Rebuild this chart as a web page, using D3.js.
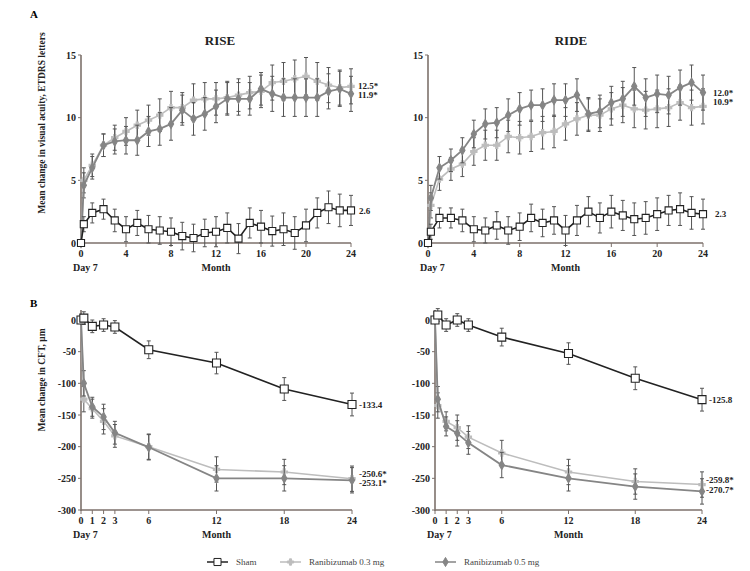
<!DOCTYPE html>
<html>
<head>
<meta charset="utf-8">
<script src="https://cdn.jsdelivr.net/npm/d3@7"></script>
<style>
  body { margin: 0; background: #fff; }
  text { font-family: "Liberation Serif", "DejaVu Serif", serif; }
</style>
</head>
<body>
<script>
// --- data ---
var monthsA = [0, 0.25, 1, 2, 3, 4, 5, 6, 7, 8, 9, 10, 11, 12, 13, 14, 15, 16, 17, 18, 19, 20, 21, 22, 23, 24];

var riseSham = [0, 1.5, 2.4, 2.7, 1.8, 1.1, 1.6, 1.1, 1.0, 0.9, 0.55, 0.4, 0.8, 0.9, 1.2, 0.35, 1.6, 1.3, 0.95, 1.1, 0.8, 1.4, 2.4, 2.85, 2.6, 2.6];
var riseLow  = [0, 5.0, 6.2, 7.8, 8.4, 8.9, 9.4, 9.8, 10.2, 10.8, 10.8, 11.4, 11.5, 11.5, 11.6, 11.8, 12.0, 12.1, 12.8, 12.9, 13.1, 13.3, 12.9, 12.6, 12.4, 12.5];
var riseHigh = [0, 4.6, 6.0, 7.8, 8.1, 8.2, 8.2, 8.9, 9.1, 9.5, 10.6, 9.9, 10.3, 10.9, 11.5, 11.5, 11.5, 12.3, 11.9, 11.6, 11.6, 11.6, 11.6, 12.1, 12.3, 11.9];

var rideSham = [0, 0.9, 2.0, 2.0, 1.8, 1.1, 1.0, 1.4, 1.0, 1.3, 2.0, 1.6, 1.8, 1.0, 1.8, 2.5, 2.0, 2.5, 2.2, 1.9, 2.0, 2.3, 2.6, 2.7, 2.4, 2.3];
var rideLow  = [0, 3.0, 5.1, 5.9, 6.3, 7.3, 7.8, 7.8, 8.5, 8.4, 8.5, 8.8, 8.9, 9.5, 9.9, 10.2, 10.2, 10.7, 11.0, 10.7, 10.6, 10.7, 10.8, 11.2, 10.8, 10.9];
var rideHigh = [0, 3.6, 6.0, 6.6, 7.4, 8.7, 9.5, 9.6, 10.2, 10.7, 11.0, 11.0, 11.4, 11.4, 11.8, 10.3, 10.5, 11.2, 11.5, 12.5, 11.6, 11.9, 11.8, 12.4, 12.8, 12.0];

// half-width of the error bars
var shamErrA = [0, 0.6, 0.8, 0.8, 0.9, 1.0, 1.0, 1.1, 1.1, 1.1, 1.1, 1.1, 1.1, 1.2, 1.2, 1.2, 1.2, 1.3, 1.2, 1.3, 1.3, 1.3, 1.2, 1.3, 1.3, 1.2];
var treatErrA = [0, 1.0, 0.9, 0.9, 1.0, 1.1, 1.2, 1.2, 1.3, 1.3, 1.2, 1.3, 1.3, 1.3, 1.3, 1.3, 1.3, 1.3, 1.4, 1.5, 1.5, 1.5, 1.5, 1.4, 1.4, 1.4];

var monthsB = [0, 0.25, 1, 2, 3, 6, 12, 18, 24];
var riseShamCft = [0, 3, -10, -8, -11, -47, -68, -109, -133.4];
var riseLowCft  = [0, -125, -140, -160, -183, -200, -236, -240, -250.6];
var riseHighCft = [0, -100, -137, -153, -178, -201, -250, -250, -253.1];
var rideShamCft = [0, 8, -8, 0, -8, -27, -53, -92, -125.8];
var rideLowCft  = [0, -135, -160, -170, -185, -210, -240, -255, -259.8];
var rideHighCft = [0, -125, -168, -179, -194, -229, -250, -263, -270.7];
var shamErrB = [0, 10, 10, 10, 10, 14, 17, 18, 18];
var treatErrB = [0, 20, 15, 20, 18, 20, 20, 20, 20];

var ticksA = [0, 4, 8, 12, 16, 20, 24];
var ticksB = [0, 1, 2, 3, 6, 12, 18, 24];
var yTicksA = [0, 5, 10, 15];
var yTicksB = [0, -50, -100, -150, -200, -250, -300];

var seriesNames = ['Sham', 'Ranibizumab 0.3 mg', 'Ranibizumab 0.5 mg'];

// --- styles ---
var axisColor = '#7d716b';
var col = { sham: '#222', low: '#bdbdbd', high: '#858585' };

var svg = d3.select('body').append('svg')
  .attr('width', 750).attr('height', 571);

function panel(opt) {
  var x = d3.scaleLinear().domain([0, 24]).range(opt.xr);
  var y = d3.scaleLinear().domain(opt.yd).range(opt.yr);
  var g = svg.append('g');

  // axes
  var xAxisY = y(opt.yd[0]);
  g.append('line').attr('x1', x(0)).attr('x2', x(24)).attr('y1', xAxisY).attr('y2', xAxisY)
    .attr('stroke', axisColor).attr('stroke-width', 1.6);
  g.append('line').attr('x1', x(0)).attr('x2', x(0)).attr('y1', xAxisY + 1).attr('y2', opt.yTop)
    .attr('stroke', axisColor).attr('stroke-width', 1.6);

  opt.yTicks.forEach(function (t) {
    g.append('line').attr('x1', x(0) - 3).attr('x2', x(0)).attr('y1', y(t)).attr('y2', y(t))
      .attr('stroke', axisColor).attr('stroke-width', 1);
    g.append('text').attr('x', x(0) - 5).attr('y', y(t) + 3.5).attr('text-anchor', 'end')
      .attr('font-size', 10).attr('font-weight', 'bold').attr('fill', '#222').text(t);
  });
  opt.xTicks.forEach(function (t) {
    g.append('line').attr('x1', x(t)).attr('x2', x(t)).attr('y1', xAxisY).attr('y2', xAxisY + 4)
      .attr('stroke', axisColor).attr('stroke-width', 1);
    g.append('text').attr('x', x(t)).attr('y', xAxisY + 14).attr('text-anchor', 'middle')
      .attr('font-size', 10).attr('font-weight', 'bold').attr('fill', '#222').text(t);
  });
  g.append('text').attr('x', x(0) - 8).attr('y', xAxisY + 28)
    .attr('font-size', 10).attr('font-weight', 'bold').attr('fill', '#222').text('Day 7');
  g.append('text').attr('x', x(12)).attr('y', xAxisY + 28).attr('text-anchor', 'middle')
    .attr('font-size', 10).attr('font-weight', 'bold').attr('fill', '#222').text('Month');

  if (opt.title) {
    g.append('text').attr('x', opt.titleX).attr('y', 45).attr('text-anchor', 'middle')
      .attr('font-size', 13).attr('font-weight', 'bold').attr('fill', '#222').text(opt.title);
  }

  var line = d3.line().x(function (d) { return x(d[0]); }).y(function (d) { return y(d[1]); });

  var series = [
    { v: opt.low, e: opt.errT, c: col.low, sym: d3.symbolCross, size: 22, fill: col.low, w: 1.6 },
    { v: opt.high, e: opt.errT, c: col.high, sym: d3.symbolDiamond, size: 24, fill: col.high, w: 1.8 },
    { v: opt.sham, e: opt.errS, c: col.sham, sym: d3.symbolSquare, size: opt.sqSize, fill: '#fff', w: 1.6 }
  ];

  series.forEach(function (s) {
    var pts = opt.months.map(function (m, i) { return [m, s.v[i], s.e[i]]; });
    // error bars
    var eb = g.append('g').attr('stroke', '#555').attr('stroke-width', 1);
    pts.forEach(function (p) {
      if (!p[2]) return;
      eb.append('line').attr('x1', x(p[0])).attr('x2', x(p[0]))
        .attr('y1', y(p[1] - p[2])).attr('y2', y(p[1] + p[2]));
      [p[1] - p[2], p[1] + p[2]].forEach(function (v) {
        eb.append('line').attr('x1', x(p[0]) - 2).attr('x2', x(p[0]) + 2)
          .attr('y1', y(v)).attr('y2', y(v));
      });
    });
    g.append('path').datum(pts).attr('d', line)
      .attr('fill', 'none').attr('stroke', s.c).attr('stroke-width', s.w);
    g.selectAll(null).data(pts).enter().append('path')
      .attr('transform', function (d) { return 'translate(' + x(d[0]) + ',' + y(d[1]) + ')'; })
      .attr('d', d3.symbol().type(s.sym).size(s.size))
      .attr('fill', s.fill).attr('stroke', s.c).attr('stroke-width', 1.1);
  });

  // end labels
  opt.endLabels.forEach(function (l) {
    g.append('text').attr('x', x(24) + l.dx).attr('y', l.y)
      .attr('font-size', 9).attr('font-weight', 'bold').attr('fill', '#222').text(l.t);
  });
  return g;
}

panel({ xr: [81, 351], yd: [0, 15], yr: [243, 55], yTop: 55, months: monthsA,
  sham: riseSham, low: riseLow, high: riseHigh, errS: shamErrA, errT: treatErrA, sqSize: 50,
  xTicks: ticksA, yTicks: yTicksA, title: 'RISE', titleX: 220,
  endLabels: [{ t: '12.5*', y: 89, dx: 7 }, { t: '11.9*', y: 98, dx: 7 }, { t: '2.6', y: 214, dx: 8 }] });

panel({ xr: [428, 703], yd: [0, 15], yr: [243, 55], yTop: 55, months: monthsA,
  sham: rideSham, low: rideLow, high: rideHigh, errS: shamErrA, errT: treatErrA, sqSize: 50,
  xTicks: ticksA, yTicks: yTicksA, title: 'RIDE', titleX: 571,
  endLabels: [{ t: '12.0*', y: 96, dx: 10 }, { t: '10.9*', y: 105, dx: 10 }, { t: '2.3', y: 217, dx: 12 }] });

panel({ xr: [81, 352], yd: [-300, 0], yr: [510, 320], yTop: 310, months: monthsB,
  sham: riseShamCft, low: riseLowCft, high: riseHighCft, errS: shamErrB, errT: treatErrB, sqSize: 64,
  xTicks: ticksB, yTicks: yTicksB,
  endLabels: [{ t: '-133.4', y: 408, dx: 7 }, { t: '-250.6*', y: 477, dx: 7 }, { t: '-253.1*', y: 486, dx: 7 }] });

panel({ xr: [435, 702], yd: [-300, 0], yr: [510, 320], yTop: 310, months: monthsB,
  sham: rideShamCft, low: rideLowCft, high: rideHighCft, errS: shamErrB, errT: treatErrB, sqSize: 64,
  xTicks: ticksB, yTicks: yTicksB,
  endLabels: [{ t: '-125.8', y: 403, dx: 7 }, { t: '-259.8*', y: 483, dx: 4 }, { t: '-270.7*', y: 493, dx: 4 }] });

// panel letters and y titles
svg.append('text').attr('x', 30).attr('y', 18).attr('font-size', 11).attr('font-weight', 'bold').text('A');
svg.append('text').attr('x', 30).attr('y', 307).attr('font-size', 11).attr('font-weight', 'bold').text('B');
svg.append('text').attr('transform', 'translate(45,123) rotate(-90)').attr('text-anchor', 'middle')
  .attr('font-size', 9.5).attr('font-weight', 'bold').attr('fill', '#222')
  .text('Mean change in visual acuity, ETDRS letters');
svg.append('text').attr('transform', 'translate(45,380) rotate(-90)').attr('text-anchor', 'middle')
  .attr('font-size', 9.5).attr('font-weight', 'bold').attr('fill', '#222')
  .text('Mean change in CFT, \u03bcm');

// legend
var legendX = [207, 280, 435];
var legendSym = [d3.symbolSquare, d3.symbolCross, d3.symbolDiamond];
var legendCol = [col.sham, col.low, col.high];
var legendFill = ['#fff', col.low, col.high];
var legendSize = [50, 22, 24];
seriesNames.forEach(function (name, i) {
  var lg = svg.append('g').attr('transform', 'translate(' + legendX[i] + ',562)');
  lg.append('line').attr('x1', 0).attr('x2', 21).attr('y1', 0).attr('y2', 0)
    .attr('stroke', legendCol[i]).attr('stroke-width', 1.5);
  lg.append('path').attr('transform', 'translate(10.5,0)')
    .attr('d', d3.symbol().type(legendSym[i]).size(legendSize[i]))
    .attr('fill', legendFill[i]).attr('stroke', legendCol[i]);
  lg.append('text').attr('x', 29).attr('y', 3).attr('font-size', 9).attr('fill', '#444').text(name);
});
</script>
</body>
</html>
